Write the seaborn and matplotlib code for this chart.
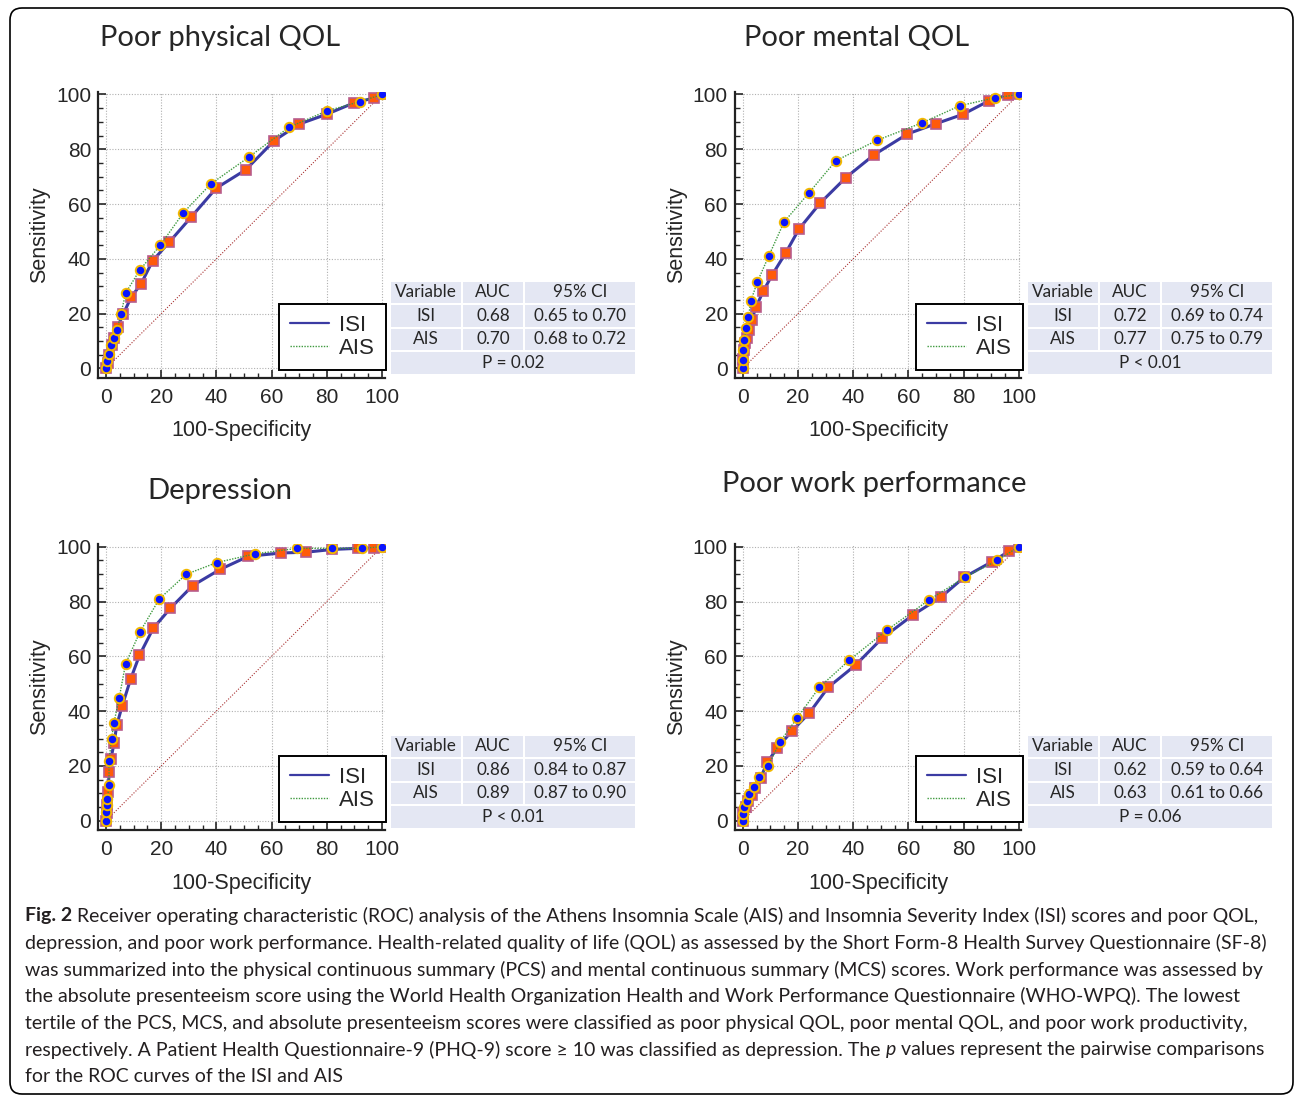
"""ROC curves of ISI and AIS for four outcomes (2x2 panel figure with AUC tables)."""

import matplotlib

matplotlib.use("Agg")
import matplotlib.pyplot as plt
import matplotlib.transforms as mtransforms
import pandas as pd
import seaborn as sns
from matplotlib.lines import Line2D
from matplotlib.patches import FancyBboxPatch, Rectangle
from matplotlib.ticker import MultipleLocator

W, H = 1295, 1096

# ---- data (100-specificity, sensitivity) ----
titles = ["Poor physical QOL", "Poor mental QOL", "Depression", "Poor work performance"]

phys_isi_x = [0, 0.6, 1.2, 2.1, 2.9, 4.2, 6.3, 9.1, 12.7, 16.9, 22.9, 30.8, 39.9, 50.6, 61, 70, 80, 90, 97, 100]
phys_isi_y = [0, 1.9, 5.0, 8.4, 11.2, 15.2, 20, 26, 30.9, 39.3, 46.1, 55.2, 65.8, 72.5, 83.2, 89.2, 92.8, 97, 98.7, 100]
phys_ais_x = [0, 0.5, 1.1, 1.7, 2.9, 4.1, 5.4, 7.2, 12.3, 19.6, 28, 37.9, 51.8, 66.4, 80, 92, 100]
phys_ais_y = [0, 2.7, 5.4, 8.4, 11, 14.2, 20, 27.7, 36, 44.9, 56.8, 67.3, 77.2, 88.1, 94, 97.4, 100]

ment_isi_x = [0, 0.2, 0.5, 0.9, 1.4, 2.3, 3.3, 4.8, 7.5, 10.7, 15.6, 20.4, 28, 37.4, 47.6, 59.7, 69.9, 79.9, 89.4, 96.3, 100]
ment_isi_y = [0, 3.5, 6.8, 9.2, 11.3, 14.1, 17.8, 22.4, 28.3, 34.2, 42.2, 50.9, 60.3, 69.7, 78, 85.6, 89.3, 92.8, 97.8, 99.9, 100]
ment_ais_x = [0, 0, 0.2, 0.6, 1.2, 2.1, 2.9, 5.3, 9.5, 15, 24, 33.7, 48.7, 65.1, 78.7, 91.4, 100]
ment_ais_y = [0, 3.2, 6.6, 10.3, 14.7, 18.7, 24.5, 31.6, 41.2, 53.5, 64.1, 75.8, 83.3, 89.7, 95.9, 98.8, 100]

dep_isi_x = [0, 0.2, 0.5, 0.6, 1.2, 1.8, 2.9, 3.9, 5.9, 8.9, 12.1, 17.1, 23.3, 31.4, 41.3, 51.6, 63.4, 72.6, 82, 91.2, 97.2, 100]
dep_isi_y = [0, 2.7, 5.7, 10.3, 17.6, 22.6, 28.2, 34.9, 42, 51.6, 60.3, 70.2, 77.5, 85.8, 91.7, 96.5, 97.7, 98, 99, 99.4, 99.5, 100]
dep_ais_x = [0, 0, 0.2, 0.5, 1.1, 1.1, 2, 2.9, 4.8, 7.1, 12.3, 19.3, 29, 40.1, 54, 69.3, 82, 92.8, 100]
dep_ais_y = [0, 3.3, 5.6, 7.8, 13, 21.9, 29.9, 35.8, 44.9, 57.3, 68.9, 80.9, 89.9, 94.2, 97.4, 99.4, 99.4, 99.4, 100]

work_isi_x = [0, 0.2, 1.2, 2.1, 3.3, 4.5, 6.5, 8.9, 12.6, 17.8, 24.2, 31, 40.9, 50.4, 61.7, 71.7, 80.3, 90.3, 96.6, 100]
work_isi_y = [0, 2.7, 5.1, 7.3, 9.4, 12, 15.7, 21.3, 26.6, 32.7, 39.4, 48.7, 56.8, 66.5, 75.1, 81.5, 88.9, 94.5, 98.4, 100]
work_ais_x = [0, 0.2, 0.5, 1.4, 2.4, 4.1, 6, 9.3, 13.5, 19.8, 27.8, 38.6, 52.2, 67.4, 80.4, 92.3, 100]
work_ais_y = [0, 2.4, 4.9, 7.2, 9.6, 12.2, 15.8, 20.1, 28.8, 37.6, 48.7, 58.6, 69.5, 80.5, 88.8, 95, 100]

chance = [0, 100]

table_header = ["Variable", "AUC", "95% CI"]
auc_isi = ["0.68", "0.72", "0.86", "0.62"]
auc_ais = ["0.70", "0.77", "0.89", "0.63"]
ci_isi = ["0.65 to 0.70", "0.69 to 0.74", "0.84 to 0.87", "0.59 to 0.64"]
ci_ais = ["0.68 to 0.72", "0.75 to 0.79", "0.87 to 0.90", "0.61 to 0.66"]
p_text = ["P = 0.02", "P < 0.01", "P < 0.01", "P = 0.06"]

caption_lines = [
    [("Fig. 2", "bold"), (" Receiver operating characteristic (ROC) analysis of the Athens Insomnia Scale (AIS) and Insomnia Severity Index (ISI) scores and poor QOL,", "normal")],
    [("depression, and poor work performance. Health-related quality of life (QOL) as assessed by the Short Form-8 Health Survey Questionnaire (SF-8)", "normal")],
    [("was summarized into the physical continuous summary (PCS) and mental continuous summary (MCS) scores. Work performance was assessed by", "normal")],
    [("the absolute presenteeism score using the World Health Organization Health and Work Performance Questionnaire (WHO-WPQ). The lowest", "normal")],
    [("tertile of the PCS, MCS, and absolute presenteeism scores were classified as poor physical QOL, poor mental QOL, and poor work productivity,", "normal")],
    [("respectively. A Patient Health Questionnaire-9 (PHQ-9) score \u2265 10 was classified as depression. The ", "normal"), ("p", "italic"), (" values represent the pairwise comparisons", "normal")],
    [("for the ROC curves of the ISI and AIS", "normal")],
]

# ---- layout (pixel anchors of data 0 and 100 on each panel) ----
XLIM = (-2.9, 101)
YLIM = (-3.4, 101)
panel_px = [
    (106.0, 382.0, 368.5, 94.5),
    (742.7, 1018.7, 368.5, 94.5),
    (106.0, 382.0, 820.7, 546.7),
    (742.7, 1018.7, 820.7, 546.7),
]
title_pos = [(220, 38), (857, 38), (220, 491), (874, 484)]
table_x = [[390, 462, 524, 636], [1027, 1099, 1161, 1273]]
table_y = [[280.5, 304, 327.5, 351, 375], [734.5, 758, 781.5, 805, 829]]

ISI_LINE = "#3b3ba3"
AIS_LINE = "#3f9a3f"
CELL = "#e4e7f3"

sns.set_style("ticks")
plt.rcParams["font.family"] = ["Liberation Sans", "DejaVu Sans"]

fig = plt.figure(figsize=(W / 100, H / 100), dpi=100)


def fx(px):
    return px / W


def fy(py):
    return 1 - py / H


series = [
    (phys_isi_x, phys_isi_y, phys_ais_x, phys_ais_y),
    (ment_isi_x, ment_isi_y, ment_ais_x, ment_ais_y),
    (dep_isi_x, dep_isi_y, dep_ais_x, dep_ais_y),
    (work_isi_x, work_isi_y, work_ais_x, work_ais_y),
]

for i, (x0, x100, y0, y100) in enumerate(panel_px):
    sx = (x100 - x0) / 100
    sy = (y0 - y100) / 100
    left = x0 + XLIM[0] * sx
    right = x0 + XLIM[1] * sx
    bottom = y0 - YLIM[0] * sy
    top = y0 - YLIM[1] * sy
    ax = fig.add_axes([fx(left), fy(bottom), fx(right - left), (bottom - top) / H])

    isi_x, isi_y, ais_x, ais_y = series[i]
    isi = pd.DataFrame({"fpr": isi_x, "tpr": isi_y})
    ais = pd.DataFrame({"fpr": ais_x, "tpr": ais_y})

    sns.lineplot(x=chance, y=chance, ax=ax, color="#a83030", lw=0.8, ls=(0, (1, 1.5)), zorder=2)
    sns.lineplot(data=isi, x="fpr", y="tpr", ax=ax, sort=False, estimator=None, color=ISI_LINE, lw=2.2,
                 marker="s", markersize=7.8, markerfacecolor="#ff5a0a", markeredgecolor="#b85c8c",
                 markeredgewidth=1.2, zorder=3)
    sns.lineplot(data=ais, x="fpr", y="tpr", ax=ax, sort=False, estimator=None, color=AIS_LINE, lw=1,
                 ls=(0, (1, 1)), marker="o", markersize=6.8, markerfacecolor="#0a14ff",
                 markeredgecolor="#f2b800", markeredgewidth=1.4, zorder=4)

    ax.set_xlim(*XLIM)
    ax.set_ylim(*YLIM)
    ax.xaxis.set_major_locator(MultipleLocator(20))
    ax.yaxis.set_major_locator(MultipleLocator(20))
    ax.xaxis.set_minor_locator(MultipleLocator(5))
    ax.yaxis.set_minor_locator(MultipleLocator(5))
    ax.tick_params(which="major", direction="in", length=6, width=1.2, labelsize=15, pad=5)
    ax.tick_params(axis="x", which="major", pad=7)
    ax.tick_params(which="minor", direction="in", length=3.5, width=1)
    ax.grid(True, which="major", color="#b0b0b0", lw=0.8, ls=(0, (1, 1.5)))
    for side in ("top", "right"):
        ax.spines[side].set_visible(False)
    for side in ("left", "bottom"):
        ax.spines[side].set_linewidth(1.6)
        ax.spines[side].set_color("#222222")
    ax.set_xlabel("100-Specificity", fontsize=15.5, labelpad=10)
    ax.set_ylabel("Sensitivity", fontsize=15.5, labelpad=4)

    handles = [Line2D([], [], color=ISI_LINE, lw=1.6),
               Line2D([], [], color=AIS_LINE, lw=1, ls=(0, (1, 1)))]
    leg = ax.legend(handles, ["ISI", "AIS"], loc="lower right", bbox_to_anchor=(1.005, 0.027),
                    borderaxespad=0, fontsize=16, fancybox=False, framealpha=1, edgecolor="black",
                    handlelength=1.75, handletextpad=0.45, labelspacing=0.1, borderpad=0.5)
    leg.get_frame().set_linewidth(1.4)

    tx, ty = title_pos[i]
    fig.text(fx(tx), fy(ty), titles[i], ha="center", va="center", fontsize=21,
             family=["Lato", "DejaVu Sans"])

    # AUC table beside each panel
    xe = table_x[i % 2]
    ye = table_y[i // 2]
    rows = [table_header, ["ISI", auc_isi[i], ci_isi[i]], ["AIS", auc_ais[i], ci_ais[i]]]
    for r in range(3):
        for c in range(3):
            fig.add_artist(Rectangle((fx(xe[c] + 1), fy(ye[r + 1] - 1)), (xe[c + 1] - xe[c] - 2) / W,
                                     (ye[r + 1] - ye[r] - 2) / H, transform=fig.transFigure,
                                     facecolor=CELL, edgecolor="none"))
            fig.text(fx((xe[c] + xe[c + 1]) / 2), fy((ye[r] + ye[r + 1]) / 2), rows[r][c],
                     ha="center", va="center", fontsize=12.3, family=["Lato", "DejaVu Sans"])
    fig.add_artist(Rectangle((fx(xe[0] + 1), fy(ye[4] - 1)), (xe[3] - xe[0] - 2) / W,
                             (ye[4] - ye[3] - 2) / H, transform=fig.transFigure,
                             facecolor=CELL, edgecolor="none"))
    fig.text(fx((xe[0] + xe[3]) / 2), fy((ye[3] + ye[4]) / 2), p_text[i],
             ha="center", va="center", fontsize=12.3, family=["Lato", "DejaVu Sans"])

# caption, with bold/italic runs placed one after another
renderer = fig.canvas.get_renderer()
cap_y = [916, 943, 970, 996, 1023, 1050, 1076]
for line, y in zip(caption_lines, cap_y):
    x = 25
    for txt, style in line:
        kw = {"fontweight": "bold"} if style == "bold" else {}
        if style == "italic":
            kw["fontstyle"] = "italic"
        t = fig.text(fx(x), fy(y), txt, ha="left", va="center", fontsize=14, color="#231f20",
                     family=["Lato", "DejaVu Sans"], **kw)
        x += t.get_window_extent(renderer).width

border = FancyBboxPatch((10, H - 1094), 1283, 1086, boxstyle="round,pad=0,rounding_size=12",
                        transform=mtransforms.IdentityTransform(), facecolor="none",
                        edgecolor="black", lw=1.2)
fig.add_artist(border)

fig.savefig("out.png", dpi=100)
